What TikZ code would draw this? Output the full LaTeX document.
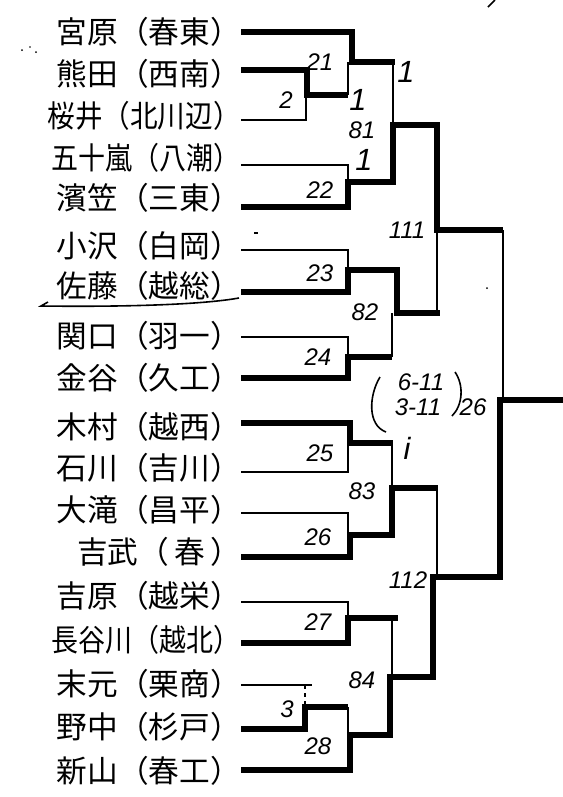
\documentclass[tikz,border=0pt]{standalone}
\usepackage{fontspec}
\newfontfamily\jpfont{Noto Sans CJK JP}
\newfontfamily\numfont{Liberation Sans}
\begin{document}
\begin{tikzpicture}[x=0.75pt,y=-0.75pt,
  win/.style={line width=4pt,line join=miter},
  lose/.style={line width=1pt},
  pname/.style={anchor=east,inner sep=0pt,font=\jpfont\fontsize{23}{23}\selectfont},
  num/.style={inner sep=0pt,font=\numfont\itshape\fontsize{18}{18}\selectfont},
  score/.style={inner sep=0pt,font=\numfont\itshape\fontsize{18}{18}\selectfont},
  one/.style={inner sep=0pt,font=\numfont\itshape\fontsize{23}{23}\selectfont},
  speck/.style={fill=black,draw=none}]
\useasboundingbox[fill=white] (0,0) rectangle (563,797);
% players
\node[pname] (p1) at (241,32) {宮原（春東）};
\node[pname] (p2) at (241,74) {熊田（西南）};
\node[pname] (p3) at (241,116) {\scalebox{0.9}[1]{桜井（北川辺）}};
\node[pname] (p4) at (241,158) {\scalebox{0.88}[1]{五十嵐（八潮）}};
\node[pname] (p5) at (241,198) {濱笠（三東）};
\node[pname] (p6) at (241,246) {小沢（白岡）};
\node[pname] (p7) at (241,286) {佐藤（越総）};
\node[pname] (p8) at (241,336) {関口（羽一）};
\node[pname] (p9) at (241,378) {金谷（久工）};
\node[pname] (p10) at (241,427) {木村（越西）};
\node[pname] (p11) at (241,468) {石川（吉川）};
\node[pname] (p12) at (241,510) {大滝（昌平）};
\node[pname] (p13) at (241,552) {吉武（\,春\,）};
\node[pname] (p14) at (241,596) {吉原（越栄）};
\node[pname] (p15) at (241,640) {\scalebox{0.88}[1]{長谷川（越北）}};
\node[pname] (p16) at (241,684) {末元（栗商）};
\node[pname] (p17) at (241,727) {野中（杉戸）};
\node[pname] (p18) at (241,771) {新山（春工）};
% top half
\draw[win] (p1.east |- 0,32) -- (352,32) -- (352,62) -- (395,62);
\draw[win] (p2.east |- 0,70) -- (307,70) -- (307,95) -- (348,95);
\draw[lose] (p3.east |- 0,120) -- (306,120) -- (306,95);
\draw[lose] (348,95) -- (348,62);
\draw[lose] (393,62) -- (393,125);
\draw[lose] (p4.east |- 0,165) -- (348,165) -- (348,182);
\draw[win] (p5.east |- 0,207) -- (348,207) -- (348,182) -- (393,182) -- (393,125) -- (437,125) -- (437,230) -- (503,230);
\draw[lose] (p6.east |- 0,250) -- (348,250) -- (348,270);
\draw[win] (p7.east |- 0,292) -- (348,292) -- (348,270) -- (397,270) -- (397,313) -- (440,313);
\draw[lose] (437,230) -- (437,313);
\draw[lose] (p8.east |- 0,337) -- (348,337) -- (348,357);
\draw[win] (p9.east |- 0,378) -- (348,378) -- (348,357) -- (392,357);
\draw[lose] (392,357) -- (392,313);
\draw[lose] (503,230) -- (503,400);
% bottom half
\draw[win] (p10.east |- 0,423) -- (350,423) -- (350,443) -- (393,443);
\draw[lose] (p11.east |- 0,472) -- (348,472) -- (348,443);
\draw[lose] (392,443) -- (392,488);
\draw[lose] (p12.east |- 0,513) -- (348,513) -- (348,535);
\draw[win] (p13.east |- 0,557) -- (350,557) -- (350,535) -- (392,535) -- (392,488) -- (438,488);
\draw[lose] (437,488) -- (437,577);
\draw[lose] (p14.east |- 0,602) -- (348,602) -- (348,618);
\draw[win] (p15.east |- 0,643) -- (348,643) -- (348,618) -- (398,618);
\draw[lose] (392,618) -- (392,677);
\draw[lose] (p16.east |- 0,685) -- (312,685);
\draw[lose,dashed] (305,685) -- (305,707);
\draw[win] (p17.east |- 0,729) -- (305,729) -- (305,707) -- (348,707);
\draw[lose] (348,707) -- (348,735);
\draw[win] (p18.east |- 0,770) -- (350,770) -- (350,735) -- (390,735) -- (390,677) -- (433,677) -- (433,577) -- (500,577) -- (500,400) -- (563,400);
% labels
\node[num] (l21) at (320,62) {21};
\node[num] (l2) at (286,100) {2};
\node[one] (la) at (406,72) {1};
\node[one] (lb) at (358,100) {1};
\node[num] (l81) at (362,130) {81};
\node[one] (lc) at (364,160) {1};
\node[num] (l22) at (320,190) {22};
\node[num] (l111) at (407,230) {111};
\node[num] (l23) at (320,273) {23};
\node[num] (l82) at (365,312) {82};
\node[num] (l24) at (318,357) {24};
\node[score] (s1) at (421,382) {6-11};
\node[score] (s2) at (418,407) {3-11};
\node[num] (l26a) at (473,407) {26};
\draw[lose,line width=1.2pt] (380,377) .. controls (369,395) and (367,425) .. (386,432);
\draw[lose,line width=1.2pt] (455,372) .. controls (464,385) and (463,405) .. (452,416);
\node[one] (ld) at (407,448) {i};
\node[num] (l25) at (320,453) {25};
\node[num] (l83) at (362,491) {83};
\node[num] (l26) at (318,537) {26};
\node[num] (l112) at (408,580) {112};
\node[num] (l27) at (318,622) {27};
\node[num] (l84) at (362,680) {84};
\node[num] (l3) at (287,709) {3};
\node[num] (l28) at (318,746) {28};
% underline and specks
\draw[line width=1.2pt] (48,302) -- (41,306) .. controls (120,307) and (200,305) .. (239,298);
\draw[line width=1.2pt] (488,7) -- (495,0);
\fill[speck] (22,50) circle (1);
\fill[speck] (30,47) circle (0.8);
\fill[speck] (36,52) circle (1);
\fill[speck] (487,288) circle (1);
\draw[line width=1.2pt] (254,233) -- (258,233);
\end{tikzpicture}
\end{document}
